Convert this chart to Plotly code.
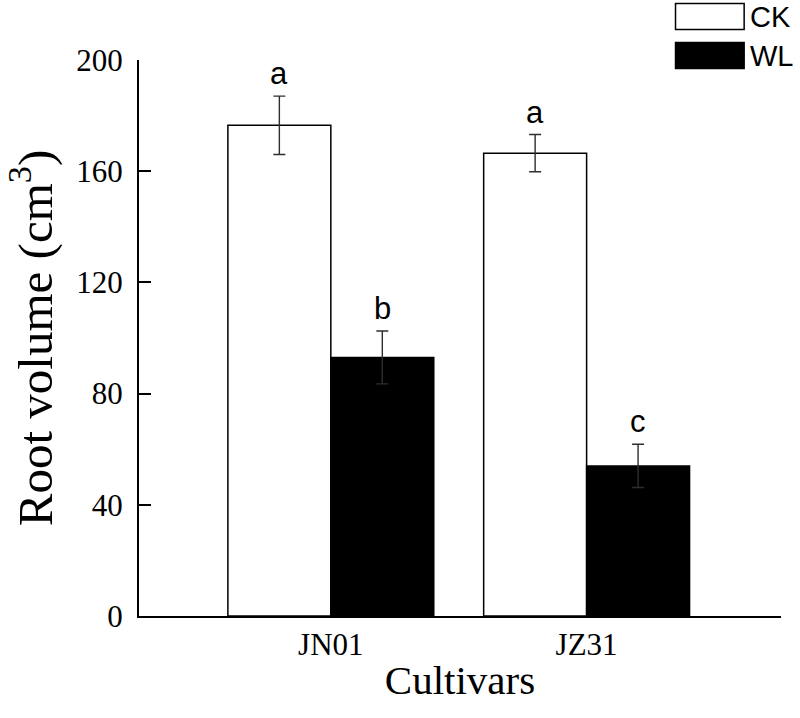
import plotly.graph_objects as go

# data
cultivars = ["JN01", "JZ31"]
treatments = ["CK", "WL"]
ck_values = [176.5, 166.5]
ck_errors = [10.5, 6.7]
wl_values = [93.0, 54.0]
wl_errors = [9.5, 7.8]
ck_letters = ["a", "a"]
wl_letters = ["b", "c"]
y_ticks = [0, 40, 80, 120, 160, 200]

BARGAP = 0.195
bar_w = (1 - BARGAP) / 2
xpos = list(range(len(cultivars)))

serif = "Liberation Serif, Times New Roman, serif"
sans = "Liberation Sans, Arial, sans-serif"
err_color = "#2e2e2e"

fig = go.Figure()

fig.add_trace(go.Bar(x=xpos, y=ck_values, name=treatments[0],
                     marker=dict(color="white", line=dict(color="black", width=1.5)),
                     error_y=dict(type="data", array=ck_errors, color=err_color,
                                  thickness=1.4, width=6)))
fig.add_trace(go.Bar(x=xpos, y=wl_values, name=treatments[1],
                     marker=dict(color="black", line=dict(color="black", width=1.5)),
                     error_y=dict(type="data", array=wl_errors, color=err_color,
                                  thickness=1.4, width=6)))

### significance letters above the error bars
for i in xpos:
    for vals, errs, letters, side in [(ck_values, ck_errors, ck_letters, -1),
                                      (wl_values, wl_errors, wl_letters, 1)]:
        fig.add_annotation(x=i + side * bar_w / 2, y=vals[i] + errs[i],
                           text=letters[i], showarrow=False, yanchor="bottom",
                           yshift=3, font=dict(family=sans, size=31, color="black"))

### legend drawn by hand (big swatches like the original)
legend_fill = ["white", "black"]
for k, name in enumerate(treatments):
    y0 = 1.0548 - k * 0.0701
    fig.add_shape(type="rect", xref="paper", yref="paper",
                  x0=0.8357, x1=0.9426, y0=y0, y1=y0 + 0.0467,
                  fillcolor=legend_fill[k], line=dict(color="black", width=1.5))
    fig.add_annotation(xref="paper", yref="paper", x=0.9488, y=y0 + 0.0233,
                       text=name, showarrow=False, xanchor="left", yanchor="middle",
                       font=dict(family=sans, size=29, color="black"))

fig.update_layout(
    width=800, height=718,
    margin=dict(l=136, r=19, t=60, b=102),
    barmode="group", bargap=BARGAP, bargroupgap=0,
    plot_bgcolor="white", paper_bgcolor="white",
    showlegend=False,
    font=dict(family=serif, color="black"),
)
fig.update_xaxes(range=[-0.75, 1.76], tickvals=xpos, ticktext=cultivars,
                 showline=True, linecolor="black", linewidth=2, ticks="",
                 showgrid=False, zeroline=False,
                 tickfont=dict(family=serif, size=31),
                 title=dict(text="Cultivars", font=dict(family=serif, size=41), standoff=4))
fig.update_yaxes(range=[0, 200], tickvals=y_ticks,
                 showline=True, linecolor="black", linewidth=2,
                 ticks="inside", ticklen=12, tickwidth=2, tickcolor="black",
                 ticklabelstandoff=8,
                 showgrid=False, zeroline=False,
                 tickfont=dict(family=serif, size=31),
                 title=dict(text="Root volume (cm<sup>3</sup>)",
                            font=dict(family=serif, size=49), standoff=30))

# drop the browser's default body margin so the figure sits at the page corner
fig.write_html("out.html", config={"displayModeBar": False},
               post_script="document.body.style.margin='0';")
